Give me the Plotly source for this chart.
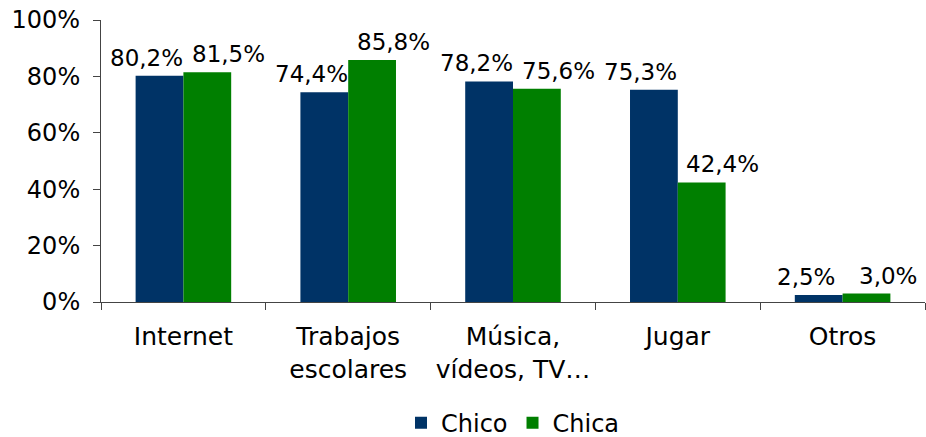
import plotly.graph_objects as go

# Uso del ordenador por sexo
categories = ["Internet", "Trabajos<br>escolares", "Música,<br>vídeos, TV…", "Jugar", "Otros"]
chico = [80.2, 74.4, 78.2, 75.3, 2.5]
chica = [81.5, 85.8, 75.6, 42.4, 3.0]
y_ticks = [0, 20, 40, 60, 80, 100]

NAVY = "#003366"
GREEN = "#007f00"
FONT = "DejaVu Sans"


def fmt(v):
    return f"{v:.1f}%".replace(".", ",")


fig = go.Figure()
fig.add_trace(go.Bar(x=categories, y=chico, name="Chico", marker_color=NAVY,
                     marker_line_width=0))
fig.add_trace(go.Bar(x=categories, y=chica, name="Chica", marker_color=GREEN,
                     marker_line_width=0))

# data labels, offset sideways like the original Excel chart
annotations = []
for cat, a, b in zip(categories, chico, chica):
    annotations.append(dict(x=cat, y=a, text=fmt(a), showarrow=False,
                            xanchor="center", yanchor="bottom", xshift=-37, yshift=3))
    annotations.append(dict(x=cat, y=b, text=fmt(b), showarrow=False,
                            xanchor="center", yanchor="bottom", xshift=45, yshift=3))

fig.update_layout(
    width=926, height=437,
    margin=dict(l=101, r=1, t=20, b=135, autoexpand=False),
    plot_bgcolor="white", paper_bgcolor="white",
    font=dict(family=FONT, size=24, color="black"),
    barmode="group",
    bargap=0.42,
    bargroupgap=0,
    annotations=annotations,
    legend=dict(orientation="h", x=0.5, xanchor="center",
                y=-0.43, yanchor="middle",
                font=dict(size=24), itemwidth=30, tracegroupgap=0),
    xaxis=dict(
        showline=True, linecolor="#444", linewidth=1,
        ticks="outside", ticklen=7, tickcolor="#444",
        tickson="boundaries", ticklabelstandoff=12, automargin=False,
        tickfont=dict(size=25),
    ),
    yaxis=dict(
        range=[0, 100], tickvals=y_ticks,
        ticktext=[f"{t}%" for t in y_ticks],
        showline=True, linecolor="#444", linewidth=1,
        ticks="outside", ticklen=7, tickcolor="#444",
        showgrid=False, zeroline=False, ticklabelstandoff=8, automargin=False,
    ),
)
fig.update_annotations(font=dict(size=23))

# drop the default page margin so the figure sits at the window's corner
fig.write_html("out.html", config={"displayModeBar": False},
               post_script="document.body.style.margin='0';")
